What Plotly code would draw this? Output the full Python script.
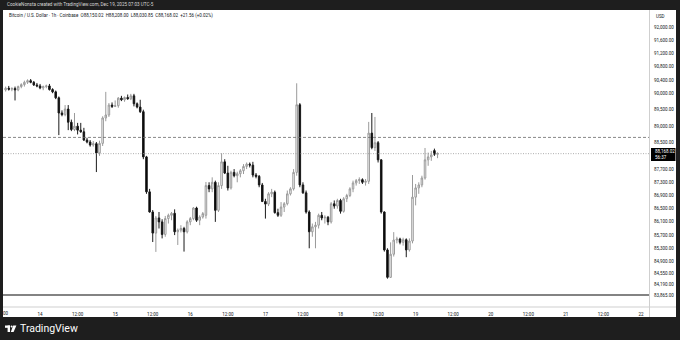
import pandas as pd
import plotly.graph_objects as go

# ---------------- data (BTC/USD 1h, Coinbase) ----------------
start_time = "2025-12-13 13:00"

open_ = [
    90100, 90150, 90120, 90140, 90100, 90200, 90260, 90330, 90380, 90330,
    90250, 90220, 90160, 90200, 90220, 90110, 90040, 89860, 89400, 89350,
    89520, 89120, 88900, 89000, 88880, 88830, 88580, 88520, 88430, 88470,
    88190, 88480, 89250, 89340, 89640, 89600, 89620, 89850, 89800, 89870,
    89830, 89920, 89680, 89580, 89440, 88070, 87010, 86400, 85760, 86220,
    86100, 85720, 86200, 86300, 86360, 85800, 85850, 85900, 85800, 86100,
    86200, 86520, 86150, 86250, 86300, 87200, 87100, 87300, 86450, 87200,
    87920, 87580, 87130, 87600, 87500, 87560, 87650, 87780, 87850, 87820,
    87520, 87480, 87220, 86720, 86640, 86950, 87000, 86380, 86300, 86550,
    86650, 86950, 87100, 87600, 89650, 87220, 86980, 86400, 85800, 85950,
    86000, 86300, 86220, 86240, 86100, 86650, 86580, 86750, 86420, 86800,
    86900, 87100, 87280, 87350, 87380, 87300, 87330, 88790, 88350, 88500,
    87980, 86400, 85250, 84420, 85120, 85550, 85580, 85480, 85560, 85250,
    85520, 86850, 87130, 87220, 87430, 87980, 88070, 88260, 88150.02,
]
high = [
    90200, 90220, 90180, 90200, 90230, 90300, 90380, 90420, 90430, 90370,
    90310, 90280, 90230, 90260, 90280, 90150, 90080, 89900, 89480, 89640,
    89640, 89200, 89400, 89100, 89100, 88950, 88650, 88580, 88550, 88520,
    88560, 89300, 90040, 89700, 89720, 89780, 89880, 89920, 89900, 89960,
    89980, 89980, 89720, 89800, 89500, 88100, 87100, 86460, 86280, 86400,
    86180, 86280, 86350, 86400, 86480, 85900, 86000, 85950, 86150, 86250,
    86550, 86560, 86300, 86400, 87310, 87300, 87450, 87350, 87300, 88180,
    88000, 87800, 87650, 87700, 87620, 87700, 87850, 87900, 87900, 87920,
    87580, 87520, 87280, 86800, 87000, 87100, 87050, 86500, 86700, 86700,
    87050, 87150, 87700, 90300, 89700, 87300, 87050, 86450, 86050, 86100,
    86350, 86400, 86300, 86280, 86700, 86750, 86800, 86800, 86850, 86950,
    87150, 87350, 87400, 87450, 87420, 87400, 89130, 89400, 89280, 88550,
    88000, 86420, 85300, 85480, 85790, 85650, 85620, 85620, 85600, 85600,
    87520, 87250, 87300, 87500, 88340, 88200, 88250, 88320, 88208.00,
]
low = [
    90050, 90080, 90060, 89780, 90060, 90150, 90200, 90280, 90300, 90220,
    90180, 90120, 90090, 90150, 90080, 90000, 89820, 88730, 89300, 89300,
    88880, 88850, 88850, 88750, 88800, 88550, 88480, 88380, 88380, 87610,
    88100, 88400, 89150, 89280, 89550, 89580, 89560, 89760, 89740, 89800,
    89790, 89600, 89540, 89400, 88000, 86950, 86380, 85490, 85190, 85900,
    85600, 85650, 86050, 86150, 85700, 85400, 85780, 85200, 85750, 86000,
    86150, 86100, 86000, 86200, 86200, 87000, 87000, 86100, 86400, 87100,
    87550, 87050, 87080, 87450, 87300, 87450, 87550, 87700, 87750, 87450,
    87420, 87150, 86700, 86200, 86580, 86850, 86350, 86250, 86250, 86400,
    86600, 86900, 87050, 87500, 87150, 86950, 86350, 85300, 85650, 85300,
    85900, 86150, 86050, 86000, 86050, 86500, 86500, 86350, 86380, 86700,
    86850, 87000, 87200, 87250, 87250, 87200, 87250, 88300, 88250, 87900,
    86350, 85200, 84380, 84400, 85050, 85450, 85420, 85380, 85030, 85200,
    85450, 86600, 86950, 87150, 87380, 87800, 87950, 88100, 88030.85,
]
close = [
    90150, 90120, 90140, 90100, 90200, 90260, 90330, 90380, 90330, 90250,
    90220, 90160, 90200, 90220, 90110, 90040, 89860, 89400, 89350, 89520,
    89120, 88900, 89000, 88880, 88830, 88580, 88520, 88430, 88470, 88190,
    88480, 89250, 89340, 89640, 89600, 89620, 89850, 89800, 89870, 89830,
    89920, 89680, 89580, 89440, 88070, 87010, 86400, 85760, 86220, 86100,
    85720, 86200, 86300, 86360, 85800, 85850, 85900, 85800, 86100, 86200,
    86520, 86150, 86250, 86350, 87200, 87100, 87300, 86450, 87200, 87920,
    87580, 87130, 87600, 87500, 87560, 87650, 87780, 87850, 87820, 87520,
    87480, 87220, 86720, 86640, 86950, 87000, 86380, 86300, 86550, 86650,
    86950, 87100, 87600, 89650, 87220, 86980, 86400, 85800, 85950, 86000,
    86300, 86220, 86240, 86100, 86650, 86580, 86750, 86420, 86800, 86900,
    87100, 87280, 87350, 87380, 87300, 87330, 88790, 88350, 88500, 87980,
    86400, 85250, 84420, 85120, 85550, 85580, 85480, 85560, 85250, 85520,
    86850, 87130, 87220, 87430, 87980, 88070, 88130, 88150, 88168.02,
]

price_ticks = [92000, 91600, 91200, 90800, 90400, 90000, 89500, 89000, 88500,
               87700, 87300, 86900, 86500, 86100, 85700, 85300, 84900, 84550,
               84190, 83865]
time_tick_start = "2025-12-14 00:00"
time_tick_text = ["14", "12:00", "15", "12:00", "16", "12:00", "17", "12:00",
                  "18", "12:00", "19", "12:00", "20", "12:00", "21", "12:00", "22"]
level_line = 88660
last_price_text = "88,168.02"
countdown_text = "56:37"

header_text = "CookieNonsta created with TradingView.com, Dec 19, 2025 07:03 UTC-5"
legend_text = ("Bitcoin / U.S. Dollar · 1h · Coinbase  O88,150.02  H88,208.00  "
               "L88,030.85  C88,168.02  +21.56 (+0.02%)")

# ---------------- layout geometry ----------------
W, H = 680, 340
PX_L, PX_R, PX_T, PX_B = 3, 649, 10, 307


def px_x(x):
    return (x - PX_L) / (PX_R - PX_L)


def px_y(y):
    return (PX_B - y) / (PX_B - PX_T)


times = pd.date_range(start_time, periods=len(close), freq="h")
tick_times = pd.date_range(time_tick_start, periods=len(time_tick_text), freq="12h")

FONT = "Roboto"
DARK = "#1e1e1e"

fig = go.Figure()
fig.add_trace(go.Candlestick(
    x=times, open=open_, high=high, low=low, close=close,
    increasing=dict(line=dict(color="#9a9a9a", width=1), fillcolor="#ffffff"),
    decreasing=dict(line=dict(color="#1a1a1a", width=1), fillcolor="#000000"),
    whiskerwidth=0, hoverinfo="skip", showlegend=False,
))

shapes = [
    # white chart panel (plot + axes)
    dict(type="rect", xref="paper", yref="paper", x0=px_x(3), x1=px_x(676),
         y0=px_y(317), y1=px_y(10), fillcolor="#ffffff", line=dict(width=0),
         layer="below"),
    # price axis border
    dict(type="line", xref="paper", yref="paper", x0=px_x(649.5), x1=px_x(649.5),
         y0=px_y(317), y1=px_y(10), line=dict(color="#cfcfcf", width=1)),
    # time axis border
    dict(type="line", xref="paper", yref="paper", x0=px_x(3), x1=px_x(676),
         y0=px_y(307), y1=px_y(307), line=dict(color="#cfcfcf", width=1)),
    # pane separator
    dict(type="line", xref="paper", yref="paper", x0=0, x1=1,
         y0=px_y(295), y1=px_y(295), line=dict(color="#5a5a5a", width=1.6)),
    # horizontal level line (dashed)
    dict(type="line", xref="paper", yref="y", x0=0, x1=1,
         y0=level_line, y1=level_line,
         line=dict(color="#6a6a6a", width=0.8, dash="3px,2px")),
    # last price line (dotted)
    dict(type="line", xref="paper", yref="y", x0=0, x1=1,
         y0=close[-1], y1=close[-1],
         line=dict(color="#9a9a9a", width=0.8, dash="1px,1.5px")),
    # last price tag
    dict(type="rect", xref="paper", yref="paper", x0=px_x(651), x1=px_x(675.5),
         y0=px_y(161), y1=px_y(148), fillcolor="#000000", line=dict(width=0)),
    # TradingView logo (approximation)
    dict(type="rect", xref="paper", yref="paper", x0=px_x(5), x1=px_x(10),
         y0=px_y(327.8), y1=px_y(325.5), fillcolor="#ffffff", line=dict(width=0)),
    dict(type="rect", xref="paper", yref="paper", x0=px_x(7.6), x1=px_x(10),
         y0=px_y(332), y1=px_y(325.5), fillcolor="#ffffff", line=dict(width=0)),
    dict(type="circle", xref="paper", yref="paper", x0=px_x(10.6), x1=px_x(12.6),
         y0=px_y(327.6), y1=px_y(325.6), fillcolor="#ffffff", line=dict(width=0)),
    dict(type="path", xref="paper", yref="paper",
         path=(f"M {px_x(13.2)} {px_y(325.5)} L {px_x(16.4)} {px_y(325.5)} "
               f"L {px_x(13.6)} {px_y(332)} L {px_x(10.8)} {px_y(332)} Z"),
         fillcolor="#ffffff", line=dict(width=0)),
]

annotations = [
    dict(text=header_text, xref="paper", yref="paper", x=px_x(5), y=px_y(5),
         xanchor="left", yanchor="middle", showarrow=False,
         font=dict(family=FONT, size=4.6, color="#d8d8d8")),
    dict(text=legend_text, xref="paper", yref="paper", x=px_x(7), y=px_y(15.5),
         xanchor="left", yanchor="middle", showarrow=False,
         font=dict(family=FONT, size=4.5, color="#131722")),
    dict(text="USD", xref="paper", yref="paper", x=px_x(654), y=px_y(16),
         xanchor="left", yanchor="middle", showarrow=False,
         font=dict(family=FONT, size=4.5, color="#131722")),
    dict(text=last_price_text, xref="paper", yref="paper", x=px_x(653), y=px_y(151.5),
         xanchor="left", yanchor="middle", showarrow=False,
         font=dict(family=FONT, size=4.5, color="#ffffff")),
    dict(text=countdown_text, xref="paper", yref="paper", x=px_x(653), y=px_y(157.5),
         xanchor="left", yanchor="middle", showarrow=False,
         font=dict(family=FONT, size=4.5, color="#ffffff")),
    dict(text="00", xref="paper", yref="paper", x=px_x(5.5), y=px_y(313),
         xanchor="center", yanchor="middle", showarrow=False,
         font=dict(family=FONT, size=4.5, color="#131722")),
    dict(text="TradingView", xref="paper", yref="paper", x=px_x(17.5), y=px_y(329),
         xanchor="left", yanchor="middle", showarrow=False,
         font=dict(family=FONT, size=10.5, color="#ffffff")),
]

fig.update_layout(
    width=W, height=H,
    margin=dict(l=PX_L, r=W - PX_R, t=PX_T, b=H - PX_B, pad=0),
    paper_bgcolor=DARK, plot_bgcolor="#ffffff",
    shapes=shapes, annotations=annotations, showlegend=False,
    xaxis=dict(
        type="date", range=["2025-12-13 12:09:36", "2025-12-22 02:33:36"],
        rangeslider=dict(visible=False), showgrid=False, zeroline=False,
        tickmode="array", tickvals=list(tick_times), ticktext=time_tick_text,
        ticks="", ticklabelstandoff=3, showline=False,
        tickfont=dict(family=FONT, size=4.5, color="#131722"),
    ),
    yaxis=dict(
        range=[83521, 92521], side="right", showgrid=False, zeroline=False,
        tickmode="array", tickvals=price_ticks,
        ticktext=[f"{v:,.2f}" for v in price_ticks],
        ticks="", ticklabelstandoff=4, showline=False,
        tickfont=dict(family=FONT, size=4.5, color="#131722"),
    ),
)

fig.write_html("out.html")
